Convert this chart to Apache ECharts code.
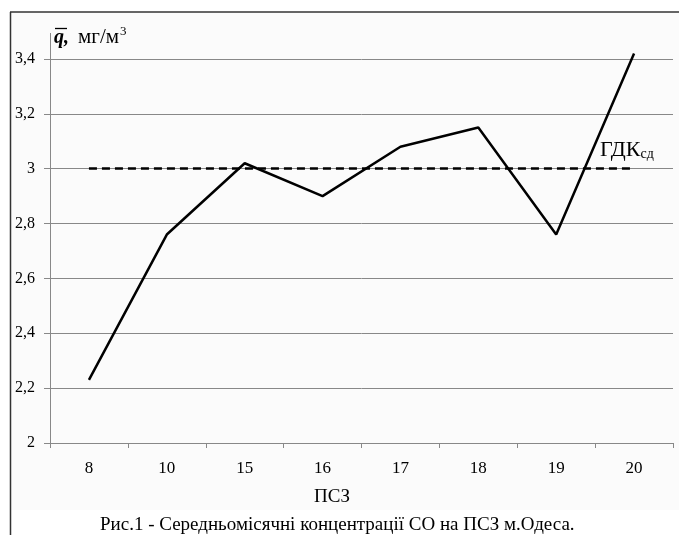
<!DOCTYPE html>
<html>
<head>
<meta charset="utf-8">
<script src="https://cdn.jsdelivr.net/npm/echarts@6/dist/echarts.min.js"></script>
<style>
  html, body { margin: 0; padding: 0; background: #ffffff; }
  #chart { width: 679px; height: 535px; }
</style>
</head>
<body>
<div id="chart"></div>
<script>
// ПСЗ (пости спостереження)
const stations = ["8", "10", "15", "16", "17", "18", "19", "20"];
// середньомісячні концентрації СО, мг/м3
const concentration = [2.23, 2.76, 3.02, 2.90, 3.08, 3.15, 2.76, 3.42];
// ГДК середньодобова
const gdk = 3.0;
const yTicks = { min: 2, max: 3.4, step: 0.2 };

const serif = "Liberation Serif";
const chart = echarts.init(document.getElementById("chart"));

chart.setOption({
  backgroundColor: "#ffffff",
  animation: false,
  graphic: [
    // фон і рамка
    { type: "rect", z: -10, shape: { x: 10, y: 12, width: 680, height: 498 }, style: { fill: "#fbfbfb" } },
    { type: "line", shape: { x1: 10, y1: 12, x2: 679, y2: 12 }, style: { stroke: "#333", lineWidth: 1.5 } },
    { type: "line", shape: { x1: 10.5, y1: 12, x2: 10.5, y2: 535 }, style: { stroke: "#333", lineWidth: 1.5 } },
    // продовження осі Y
    { type: "line", shape: { x1: 50.5, y1: 33, x2: 50.5, y2: 59 }, style: { stroke: "#888", lineWidth: 1 } },
    // підпис осі Y
    { type: "line", shape: { x1: 55, y1: 28.5, x2: 67, y2: 28.5 }, style: { stroke: "#000", lineWidth: 1.3 } },
    {
      type: "text", left: 54, top: 25,
      style: {
        text: "{q|q,}{u|мг/м}{s|3}",
        rich: {
          q: { fontFamily: serif, fontSize: 20, fontWeight: "bold", fontStyle: "italic", fill: "#000" },
          u: { fontFamily: serif, fontSize: 21, fill: "#000", padding: [0, 0, 0, 9] },
          s: { fontFamily: serif, fontSize: 13, fill: "#000", verticalAlign: "top", padding: [0, 0, 12, 1] }
        }
      }
    },
    // ГДКсд
    {
      type: "text", left: 600, top: 139,
      style: {
        text: "{a|ГДК}{b|сд}",
        rich: {
          a: { fontFamily: serif, fontSize: 22, fill: "#000" },
          b: { fontFamily: serif, fontSize: 14, fill: "#000", padding: [9, 0, 0, 0] }
        }
      }
    },
    // назва осі X
    {
      type: "text", left: 314, top: 488,
      style: { text: "ПСЗ", fontFamily: serif, fontSize: 19, fill: "#000" }
    },
    // підпис рисунка
    {
      type: "text", left: 100, top: 516,
      style: { text: "Рис.1 - Середньомісячні концентрації СО на ПСЗ м.Одеса.", fontFamily: serif, fontSize: 19, fill: "#000" }
    }
  ],
  grid: { left: 50, right: 6, top: 59, height: 384 },
  xAxis: {
    type: "category",
    data: stations,
    boundaryGap: true,
    axisLine: { lineStyle: { color: "#888", width: 1 } },
    axisTick: { show: true, length: 5, lineStyle: { color: "#888" } },
    axisLabel: { fontFamily: serif, fontSize: 17, color: "#000", margin: 17 },
    splitLine: { show: false }
  },
  yAxis: {
    type: "value",
    min: yTicks.min,
    max: yTicks.max,
    interval: yTicks.step,
    axisLine: { show: true, lineStyle: { color: "#888", width: 1 } },
    axisTick: { show: true, length: 6, lineStyle: { color: "#888" } },
    axisLabel: {
      fontFamily: serif, fontSize: 16, color: "#000", margin: 15,
      formatter: v => String(Math.round(v * 10) / 10).replace(".", ",")
    },
    splitLine: { show: true, lineStyle: { color: "#888", width: 1 } }
  },
  series: [
    {
      type: "line",
      data: concentration,
      symbol: "none",
      clip: false,
      lineStyle: { color: "#000", width: 2.5 },
      markLine: {
        symbol: "none",
        silent: true,
        label: { show: false },
        lineStyle: { color: "#000", width: 2.5, type: [8, 5] },
        data: [[
          { coord: [stations[0], gdk] },
          { coord: [stations[stations.length - 1], gdk] }
        ]]
      }
    }
  ]
});
</script>
</body>
</html>
